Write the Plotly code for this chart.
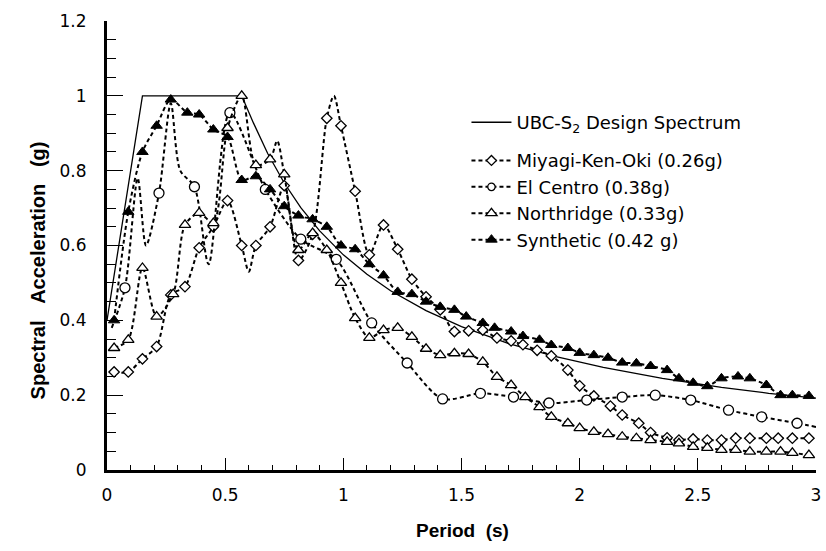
import plotly.graph_objects as go

# ---------------- data ----------------
ubc_T = [0.0, 0.15, 0.57, 0.62, 0.68, 0.75, 0.82, 0.90, 1.00, 1.10, 1.20, 1.35,
         1.50, 1.70, 1.90, 2.10, 2.35, 2.60, 2.80, 3.00]
ubc_Sa = [0.40, 1.00, 1.00, 0.927, 0.846, 0.767, 0.701, 0.639, 0.575, 0.523, 0.479,
          0.426, 0.383, 0.338, 0.303, 0.274, 0.245, 0.221, 0.205, 0.192]

miyagi_T = [0.03, 0.09, 0.15, 0.21, 0.27, 0.33, 0.39, 0.45, 0.51, 0.57, 0.63, 0.69,
            0.75, 0.81, 0.87, 0.93, 0.99, 1.05, 1.11, 1.17, 1.23, 1.29, 1.35, 1.41,
            1.47, 1.53, 1.59, 1.65, 1.71, 1.76, 1.82, 1.88, 1.95, 2.00, 2.06, 2.13,
            2.18, 2.25, 2.30, 2.37, 2.42, 2.48, 2.54, 2.60, 2.66, 2.72, 2.79, 2.84,
            2.90, 2.97]
miyagi_Sa = [0.262, 0.262, 0.297, 0.330, 0.468, 0.490, 0.594, 0.650, 0.720, 0.600,
             0.600, 0.650, 0.760, 0.560, 0.630, 0.940, 0.920, 0.745, 0.575, 0.655,
             0.590, 0.510, 0.463, 0.428, 0.370, 0.372, 0.374, 0.353, 0.345, 0.335,
             0.320, 0.305, 0.267, 0.225, 0.198, 0.171, 0.147, 0.125, 0.100, 0.086,
             0.080, 0.083, 0.080, 0.080, 0.085, 0.085, 0.085, 0.085, 0.085, 0.085]
# unmarked response values between plotted symbols
miyagi_mid_T = [0.60, 0.96]
miyagi_mid_Sa = [0.53, 1.00]

elcentro_T = [0.076, 0.22, 0.37, 0.52, 0.67, 0.82, 0.97, 1.12, 1.27, 1.42, 1.58,
              1.72, 1.87, 2.03, 2.18, 2.32, 2.47, 2.63, 2.77, 2.92]
elcentro_Sa = [0.487, 0.740, 0.757, 0.955, 0.750, 0.617, 0.563, 0.393, 0.286, 0.190,
               0.205, 0.195, 0.179, 0.187, 0.195, 0.200, 0.187, 0.160, 0.142, 0.125]
elcentro_mid_T = [0.02, 0.13, 0.165, 0.27, 0.31, 0.43, 3.00]
elcentro_mid_Sa = [0.38, 0.78, 0.60, 0.98, 0.80, 0.55, 0.115]

northridge_T = [0.03, 0.09, 0.15, 0.21, 0.28, 0.33, 0.39, 0.45, 0.51, 0.57, 0.63,
                0.69, 0.75, 0.81, 0.87, 0.93, 0.99, 1.05, 1.11, 1.17, 1.23, 1.29,
                1.35, 1.41, 1.47, 1.53, 1.59, 1.65, 1.71, 1.77, 1.83, 1.88, 1.95,
                2.00, 2.06, 2.12, 2.18, 2.24, 2.30, 2.37, 2.42, 2.48, 2.54, 2.60,
                2.66, 2.72, 2.79, 2.85, 2.90, 2.97]
northridge_Sa = [0.326, 0.348, 0.540, 0.410, 0.470, 0.655, 0.687, 0.660, 0.914, 1.000,
                 0.815, 0.830, 0.790, 0.588, 0.633, 0.588, 0.500, 0.406, 0.353, 0.374,
                 0.380, 0.356, 0.324, 0.307, 0.312, 0.310, 0.289, 0.249, 0.227, 0.195,
                 0.168, 0.142, 0.125, 0.112, 0.102, 0.096, 0.089, 0.085, 0.080, 0.075,
                 0.071, 0.062, 0.059, 0.054, 0.054, 0.049, 0.049, 0.049, 0.046, 0.040]
northridge_mid_T = [0.72]
northridge_mid_Sa = [0.88]

synthetic_T = [0.03, 0.09, 0.15, 0.21, 0.27, 0.34, 0.39, 0.45, 0.51, 0.57, 0.63, 0.69,
               0.75, 0.81, 0.87, 0.93, 0.99, 1.05, 1.11, 1.17, 1.23, 1.29, 1.35, 1.41,
               1.47, 1.52, 1.59, 1.64, 1.71, 1.76, 1.83, 1.88, 1.95, 2.00, 2.06, 2.12,
               2.18, 2.24, 2.30, 2.37, 2.42, 2.48, 2.54, 2.60, 2.67, 2.72, 2.79, 2.85,
               2.90, 2.97]
synthetic_Sa = [0.400, 0.690, 0.850, 0.920, 0.990, 0.955, 0.950, 0.910, 0.890, 0.775,
                0.785, 0.750, 0.705, 0.680, 0.670, 0.650, 0.600, 0.590, 0.550, 0.520,
                0.476, 0.470, 0.450, 0.436, 0.428, 0.410, 0.393, 0.380, 0.370, 0.358,
                0.348, 0.334, 0.326, 0.313, 0.307, 0.300, 0.287, 0.285, 0.278, 0.267,
                0.245, 0.233, 0.224, 0.245, 0.250, 0.245, 0.227, 0.200, 0.200, 0.198]

series_names = ["UBC-S<sub>2</sub> Design Spectrum", "Miyagi-Ken-Oki (0.26g)",
                "El Centro (0.38g)", "Northridge (0.33g)", "Synthetic (0.42 g)"]

x_ticks = [0, 0.5, 1, 1.5, 2, 2.5, 3]
y_ticks = [0, 0.2, 0.4, 0.6, 0.8, 1, 1.2]


def merge(T, Sa, midT, midSa, size):
    pts = [(t, s, size) for t, s in zip(T, Sa)] + [(t, s, 0) for t, s in zip(midT, midSa)]
    pts.sort(key=lambda p: p[0])
    return [p[0] for p in pts], [p[1] for p in pts], [p[2] for p in pts]


DASH = "4px,3px"
LINE = dict(color="black", width=2, dash=DASH, shape="spline", smoothing=0.8)
fig = go.Figure()

fig.add_trace(go.Scatter(x=ubc_T, y=ubc_Sa, mode="lines", name=series_names[0],
                         legend="legend", line=dict(color="black", width=1.3)))

mx, my, ms = merge(miyagi_T, miyagi_Sa, miyagi_mid_T, miyagi_mid_Sa, 8)
fig.add_trace(go.Scatter(x=mx, y=my, mode="lines+markers", name=series_names[1],
                         legend="legend2", legendgroup="m", line=LINE,
                         marker=dict(symbol="diamond", size=ms, color="white", opacity=1,
                                     line=dict(color="black", width=1.3))))

ex, ey, es = merge(elcentro_T, elcentro_Sa, elcentro_mid_T, elcentro_mid_Sa, 10)
fig.add_trace(go.Scatter(x=ex, y=ey, mode="lines+markers", name=series_names[2],
                         legend="legend2", legendgroup="e", line=LINE,
                         marker=dict(symbol="circle", size=es, color="white", opacity=1,
                                     line=dict(color="black", width=1.3))))

nx, ny, ns = merge(northridge_T, northridge_Sa, northridge_mid_T, northridge_mid_Sa, 10)
fig.add_trace(go.Scatter(x=nx, y=ny, mode="lines+markers", name=series_names[3],
                         legend="legend2", legendgroup="n", line=LINE,
                         marker=dict(symbol="triangle-up", size=ns, color="white", opacity=1,
                                     line=dict(color="black", width=1.3))))

fig.add_trace(go.Scatter(x=synthetic_T, y=synthetic_Sa, mode="lines+markers", name=series_names[4],
                         legend="legend2", legendgroup="s", line=LINE,
                         marker=dict(symbol="triangle-up", size=10, color="black", opacity=1,
                                     line=dict(color="black", width=1))))

tickfont = dict(family="DejaVu Sans", size=17, color="black")
legfont = dict(family="DejaVu Sans", size=18, color="black")
fig.update_layout(
    width=826, height=551,
    margin=dict(l=107, r=5, t=21, b=81),
    paper_bgcolor="white", plot_bgcolor="white",
    showlegend=True,
    legend=dict(x=0.507, y=0.815, xanchor="left", yanchor="top", font=legfont,
                bgcolor="rgba(0,0,0,0)", itemwidth=40, itemsizing="trace"),
    legend2=dict(x=0.507, y=0.73, xanchor="left", yanchor="top", font=legfont,
                 bgcolor="rgba(0,0,0,0)", itemwidth=40, itemsizing="trace",
                 tracegroupgap=0),
    xaxis=dict(range=[0, 3], tickvals=x_ticks, ticktext=[str(v) for v in x_ticks],
               showline=True, linecolor="black", linewidth=2.5,
               ticks="inside", ticklen=12, tickwidth=1.3, tickcolor="black",
               minor=dict(ticks="inside", ticklen=5, dtick=0.1, tickwidth=1.2, tickcolor="black"),
               showgrid=False, zeroline=False, tickfont=tickfont, ticklabelstandoff=8,
               ticklabeloverflow="allow"),
    yaxis=dict(range=[0, 1.2], tickvals=y_ticks, ticktext=[str(v) for v in y_ticks],
               showline=True, linecolor="black", linewidth=3,
               ticks="inside", ticklen=16, tickwidth=1.3, tickcolor="black",
               minor=dict(ticks="inside", ticklen=9, dtick=0.05, tickwidth=1.2, tickcolor="black"),
               showgrid=False, zeroline=False, tickfont=tickfont, ticklabelstandoff=14,
               ticklabeloverflow="allow"),
    annotations=[
        dict(text="<b>Period\u00a0\u00a0(s)</b>", xref="paper", yref="paper", x=0.501, y=-0.134,
             xanchor="center", yanchor="middle", showarrow=False,
             font=dict(family="Liberation Sans", size=19, color="black")),
        dict(text="<b>Spectral\u00a0\u00a0\u00a0Acceleration\u00a0\u00a0\u00a0(g)</b>",
             xref="paper", yref="paper",
             x=-0.097, y=0.445, xanchor="center", yanchor="middle", textangle=-90,
             showarrow=False, font=dict(family="Liberation Sans", size=20, color="black")),
    ],
)

fig.write_html("out.html")
